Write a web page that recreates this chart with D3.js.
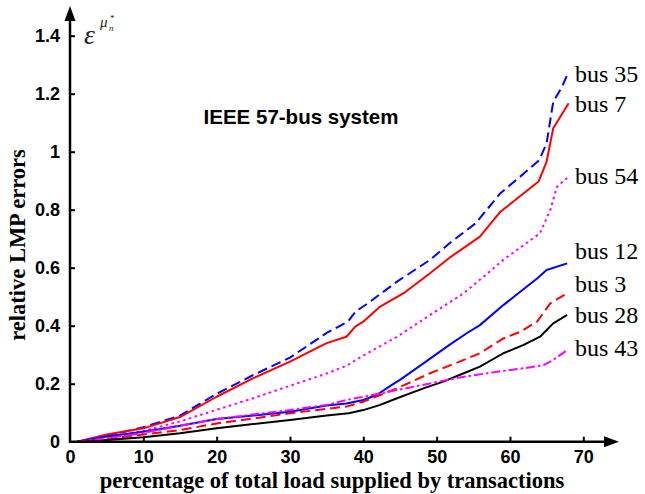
<!DOCTYPE html>
<html>
<head>
<meta charset="utf-8">
<script src="https://cdn.jsdelivr.net/npm/d3@7"></script>
<style>
  body { margin: 0; background: #fff; }
  svg { display: block; }
</style>
</head>
<body>
<div id="chart"></div>
<script>
"use strict";

// values: [percentage, relative error]
const bus35 = [[1,0],[5,0.02],[10,0.05],[15,0.09],[20,0.165],[25,0.23],[30,0.29],[35,0.375],[37.9,0.414],[39,0.45],[40.5,0.475],[44.6,0.552],[49.1,0.627],[51.8,0.685],[55.3,0.753],[58.7,0.857],[61.4,0.914],[64,0.971],[65,1.03],[65.9,1.172],[67.1,1.224],[68,1.276]];
const bus7  = [[1,0],[5,0.025],[10,0.046],[15,0.085],[20,0.155],[25,0.219],[30,0.276],[35,0.34],[37.7,0.362],[38.9,0.397],[40,0.414],[42.3,0.466],[45.5,0.512],[49.1,0.581],[51.8,0.635],[55.9,0.707],[58.7,0.793],[63.9,0.897],[65,0.966],[65.9,1.081],[68,1.167]];
const bus54 = [[1,0],[5,0.018],[10,0.037],[15,0.07],[20,0.11],[25,0.15],[30,0.193],[35,0.235],[37.7,0.262],[40,0.297],[44.6,0.362],[49.1,0.437],[53.7,0.512],[56.4,0.569],[59.1,0.627],[62.8,0.695],[64.1,0.719],[65.5,0.799],[66.4,0.879],[68,0.914]];
const bus12 = [[1,0],[5,0.018],[10,0.034],[15,0.055],[20,0.078],[25,0.09],[30,0.103],[35,0.125],[37.7,0.132],[40,0.144],[41.8,0.161],[43.9,0.196],[45,0.213],[48.2,0.27],[51.4,0.328],[54.1,0.374],[55.9,0.402],[59.1,0.471],[61.4,0.517],[63.7,0.563],[65,0.592],[67.8,0.615]];
const bus3  = [[1,0],[5,0.01],[10,0.025],[15,0.04],[20,0.063],[25,0.08],[30,0.098],[35,0.113],[37.7,0.121],[40,0.138],[42.3,0.161],[44.6,0.184],[49.1,0.236],[53.7,0.282],[55.9,0.305],[59.1,0.356],[61.4,0.379],[63.7,0.414],[65.5,0.477],[67.8,0.512]];
const bus28 = [[1,0],[5,0.006],[10,0.015],[15,0.029],[20,0.046],[25,0.061],[30,0.075],[35,0.09],[38,0.098],[40,0.109],[42.3,0.127],[44.6,0.15],[48.2,0.184],[50.9,0.207],[53.7,0.236],[55.9,0.259],[59.1,0.305],[61.8,0.333],[64.1,0.362],[65.9,0.408],[67.8,0.437]];
const bus43 = [[1,0],[5,0.012],[10,0.03],[15,0.055],[20,0.078],[25,0.094],[30,0.109],[35,0.127],[37.7,0.144],[40,0.155],[44.6,0.178],[49.1,0.201],[53.7,0.224],[58.2,0.241],[61.8,0.253],[64.6,0.264],[65.9,0.282],[67.8,0.316]];

const seriesNames = ['bus 35', 'bus 7', 'bus 54', 'bus 12', 'bus 3', 'bus 28', 'bus 43'];
const seriesData = [bus35, bus7, bus54, bus12, bus3, bus28, bus43];
const labelValues = [1.268, 1.164, 0.916, 0.658, 0.543, 0.437, 0.323];

const xTicks = [0, 10, 20, 30, 40, 50, 60, 70];
const yTicks = [0, 0.2, 0.4, 0.6, 0.8, 1, 1.2, 1.4];
const yTickLabels = ['0', '0.2', '0.4', '0.6', '0.8', '1', '1.2', '1.4'];

const styles = [
    { color: '#0000ff', dash: '10,5' },
    { color: '#ff0000', dash: null },
    { color: '#ff00ff', dash: '2.5,3.5' },
    { color: '#0000ff', dash: null },
    { color: '#ff0000', dash: '10,5' },
    { color: '#000000', dash: null },
    { color: '#ff00ff', dash: '9,3,2.5,3' }
];

const W = 645, H = 494;
const svg = d3.select('#chart').append('svg').attr('width', W).attr('height', H);

const x = d3.scaleLinear().domain([0, 70]).range([70, 583.3]);
const y = d3.scaleLinear().domain([0, 1.4]).range([441.7, 35.7]);

const sans = '"Liberation Sans", Arial, sans-serif';
const serif = '"Liberation Serif", "Times New Roman", serif';

// lines
const line = d3.line().x(d => x(d[0])).y(d => y(d[1]));
svg.append('g').selectAll('path')
   .data(seriesData).enter()
   .append('path')
   .attr('d', line)
   .attr('fill', 'none')
   .attr('stroke', (d, i) => styles[i].color)
   .attr('stroke-width', 2)
   .attr('stroke-dasharray', (d, i) => styles[i].dash)
   .attr('stroke-linejoin', 'round');

// axes
const xAxis = d3.axisBottom(x).tickValues(xTicks).tickSizeInner(-5).tickSizeOuter(0).tickPadding(9);
const gx = svg.append('g').attr('transform', `translate(0,${y(0)})`).call(xAxis);
gx.select('.domain').remove();
gx.selectAll('.tick line').attr('stroke-width', 2).filter(d => d === 0).remove();
gx.selectAll('text').attr('font-family', sans).attr('font-weight', 'bold').attr('font-size', 18).attr('fill', '#000');

const yAxis = d3.axisLeft(y).tickValues(yTicks).tickFormat((d, i) => yTickLabels[i]).tickSizeInner(-5).tickSizeOuter(0).tickPadding(10);
const gy = svg.append('g').attr('transform', `translate(${x(0)},0)`).call(yAxis);
gy.select('.domain').remove();
gy.selectAll('.tick line').attr('stroke-width', 2).filter(d => d === 0).remove();
gy.selectAll('text').attr('font-family', sans).attr('font-weight', 'bold').attr('font-size', 18).attr('fill', '#000');

// axis lines with arrow heads
const x0 = x(0), y0 = y(0);
svg.append('line').attr('x1', x0).attr('y1', y0 + 1).attr('x2', x0).attr('y2', 18)
   .attr('stroke', '#000').attr('stroke-width', 2.5);
svg.append('path').attr('d', `M${x0},6 L${x0 - 5.5},21 L${x0 + 5.5},21 Z`).attr('fill', '#000');
svg.append('line').attr('x1', x0 - 1).attr('y1', y0).attr('x2', 606).attr('y2', y0)
   .attr('stroke', '#000').attr('stroke-width', 2.5);
svg.append('path').attr('d', `M619,${y0} L604,${y0 - 5.5} L604,${y0 + 5.5} Z`).attr('fill', '#000');

// series labels
svg.append('g').selectAll('text')
   .data(seriesNames).enter()
   .append('text')
   .attr('x', 575)
   .attr('y', (d, i) => y(labelValues[i]))
   .attr('dy', '0.32em')
   .attr('font-family', serif)
   .attr('font-size', 24)
   .attr('fill', '#000')
   .text(d => d);

// title
svg.append('text').attr('x', 301).attr('y', 124).attr('text-anchor', 'middle')
   .attr('font-family', sans).attr('font-weight', 'bold').attr('font-size', 20.5)
   .text('IEEE 57-bus system');

// axis titles
svg.append('text').attr('x', 332).attr('y', 488).attr('text-anchor', 'middle')
   .attr('font-family', serif).attr('font-weight', 'bold').attr('font-size', 22.5)
   .text('percentage of total load supplied by transactions');
svg.append('text').attr('transform', 'translate(25,245) rotate(-90)').attr('text-anchor', 'middle')
   .attr('font-family', serif).attr('font-weight', 'bold').attr('font-size', 22.5)
   .text('relative LMP errors');

// epsilon symbol at top of y axis
const sym = svg.append('g').attr('fill', '#222').attr('font-family', serif).attr('font-style', 'italic');
sym.append('text').attr('x', 84).attr('y', 44).attr('font-size', 28).text('ε');
sym.append('text').attr('x', 100).attr('y', 27).attr('font-size', 15).text('μ');
sym.append('text').attr('x', 109).attr('y', 31).attr('font-size', 9).text('n');
sym.append('text').attr('x', 110).attr('y', 21).attr('font-size', 9).attr('font-style', 'normal').text('*');
</script>
</body>
</html>
